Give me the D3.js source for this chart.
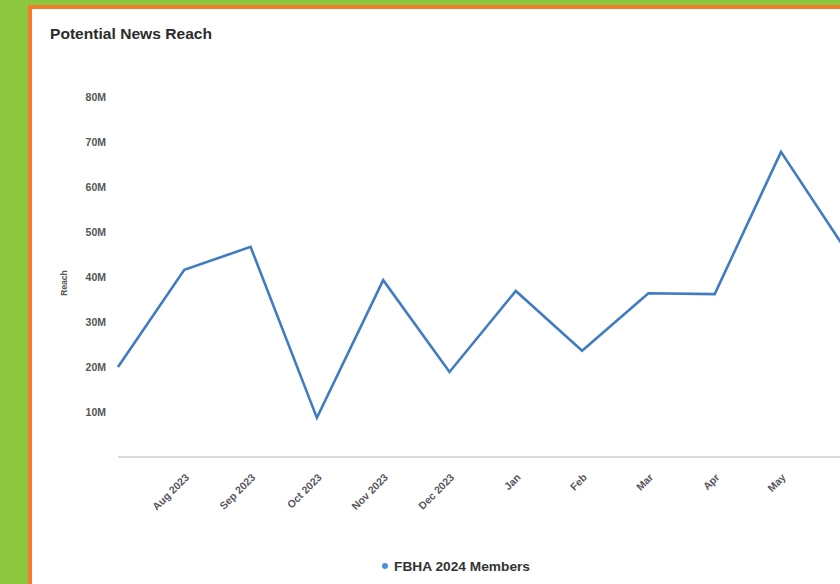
<!DOCTYPE html>
<html>
<head>
<meta charset="utf-8">
<script src="https://cdn.jsdelivr.net/npm/d3@7"></script>
<style>
html,body{margin:0;padding:0;background:#8dc63f;}
svg{display:block;}
text{font-family:"Liberation Sans",Arial,Helvetica,sans-serif;}
</style>
</head>
<body>
<svg id="chart" width="840" height="584"></svg>
<script>
const categories = ["Jul 2023","Aug 2023","Sep 2023","Oct 2023","Nov 2023","Dec 2023","Jan","Feb","Mar","Apr","May","Jun"];
const reachValues = [20.0, 41.6, 46.7, 8.7, 39.3, 18.9, 36.9, 23.6, 36.4, 36.2, 67.8, 45.5]; // millions
const yTicks = [10, 20, 30, 40, 50, 60, 70, 80];
const hiddenLabels = ["Jul 2023", "Jun"];
const seriesName = "FBHA 2024 Members";
const chartTitle = "Potential News Reach";
const yTitle = "Reach";

const svg = d3.select("#chart");
// frame
svg.append("rect").attr("x",0).attr("y",0).attr("width",840).attr("height",584).attr("fill","#8dc63f");
svg.append("rect").attr("x",28).attr("y",5).attr("width",820).attr("height",590).attr("fill","#ef7d2d");
svg.append("rect").attr("x",32).attr("y",9).attr("width",820).attr("height",590).attr("fill","#ffffff");

const x = d3.scalePoint().domain(categories).range([118, 118 + 66.3*(categories.length-1)]);
const y = d3.scaleLinear().domain([0, 80]).range([457, 97]);

// title
svg.append("text").attr("x",50).attr("y",39).attr("font-size",15).attr("font-weight","bold")
  .attr("fill","#2b2b2b").attr("textLength",162).attr("lengthAdjust","spacingAndGlyphs").text(chartTitle);

// y axis labels
const yAxis = d3.axisLeft(y).tickValues(yTicks).tickFormat(d => d + "M").tickSize(0).tickPadding(0);
const yg = svg.append("g").attr("transform","translate(106,0)").call(yAxis);
yg.select(".domain").remove();
yg.selectAll("text").attr("font-size",10.5).attr("font-weight","bold").attr("fill","#555")
  .attr("font-family","'Liberation Sans',Arial,sans-serif");

svg.append("text").attr("transform","translate(67,283) rotate(-90)").attr("text-anchor","middle")
  .attr("font-size",8.5).attr("font-weight","bold").attr("fill","#555").text(yTitle);

// baseline
svg.append("line").attr("x1",118).attr("x2",840).attr("y1",y(0)).attr("y2",y(0))
  .attr("stroke","#cfcfcf").attr("stroke-width",1.5);

// x axis labels
const xAxis = d3.axisBottom(x).tickSize(0).tickPadding(0)
  .tickFormat(d => hiddenLabels.includes(d) ? "" : d);
const xg = svg.append("g").attr("transform",`translate(0,${y(0)})`).call(xAxis);
xg.select(".domain").remove();
xg.selectAll("text").attr("font-size",10.5).attr("font-weight","bold").attr("fill","#5a5560")
  .attr("font-family","'Liberation Sans',Arial,sans-serif")
  .attr("text-anchor","end").attr("dy",0)
  .attr("transform","translate(5,21) rotate(-45)");

// line
const line = d3.line().x((d,i) => x(categories[i])).y(d => y(d));
svg.append("path").datum(reachValues).attr("d", line).attr("fill","none")
  .attr("stroke","#3f7cc1").attr("stroke-width",2.6).attr("stroke-linejoin","miter");

// legend
svg.append("circle").attr("cx",385).attr("cy",566).attr("r",3).attr("fill","#4a90d9");
svg.append("text").attr("x",394).attr("y",571).attr("font-size",13).attr("font-weight","bold")
  .attr("fill","#333").attr("textLength",136).attr("lengthAdjust","spacingAndGlyphs").text(seriesName);
</script>
</body>
</html>
